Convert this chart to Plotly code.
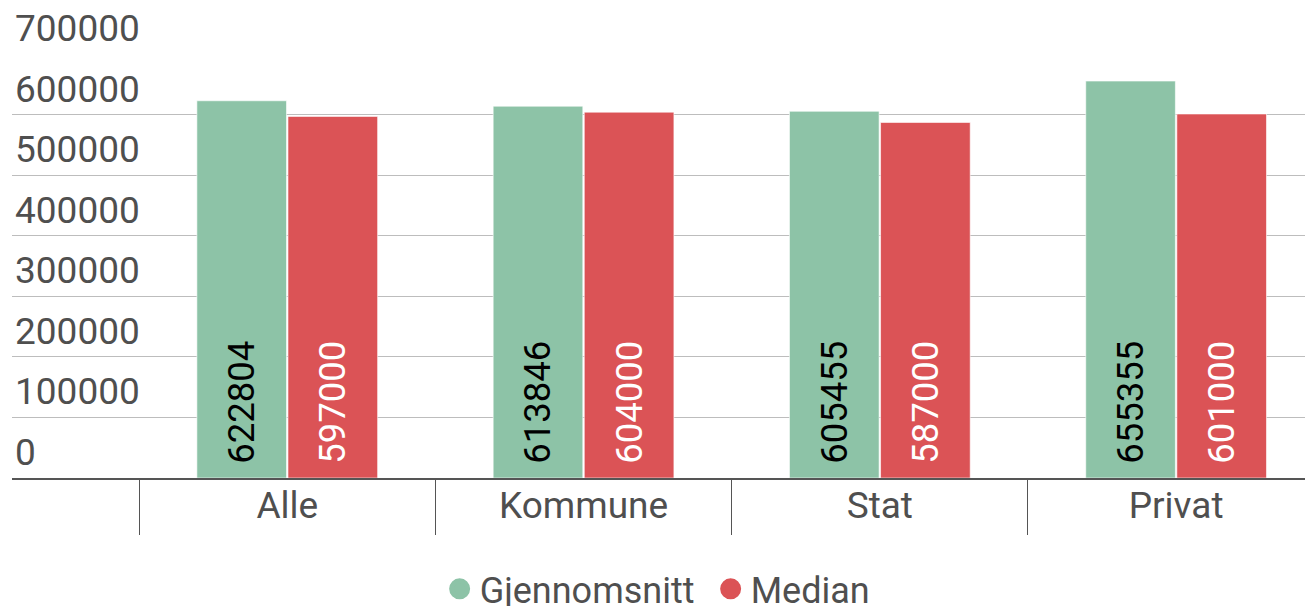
import plotly.graph_objects as go

categories = ["Alle", "Kommune", "Stat", "Privat"]
gjennomsnitt = [622804, 613846, 605455, 655355]
median = [597000, 604000, 587000, 601000]
series_names = ["Gjennomsnitt", "Median"]
y_ticks = [0, 100000, 200000, 300000, 400000, 500000, 600000, 700000]

GREEN = "#8DC3A7"
RED = "#DB5356"
FONT = "Roboto"
GREY = "#4F4F4F"

fig = go.Figure()
for name, vals, col, tcol in [(series_names[0], gjennomsnitt, GREEN, "black"),
                              (series_names[1], median, RED, "white")]:
    fig.add_trace(go.Bar(
        x=categories, y=vals, name=name, showlegend=False,
        marker=dict(color=col, line=dict(color="rgba(255,255,255,0.6)", width=1)),
        text=[str(v) for v in vals], texttemplate="\u2009\u200a%{text}",
        textposition="inside",
        insidetextanchor="start", textangle=-90,
        textfont=dict(family=FONT, size=36.5, color=tcol),
    ))
    fig.add_trace(go.Scatter(
        x=[None], y=[None], mode="markers", name=name,
        marker=dict(color=col, size=16, symbol="circle",
                    line=dict(color=col, width=5)),
    ))

# page body adds an 8px offset; margins compensate for it
fig.update_layout(
    width=1313, height=606,
    margin=dict(l=4, r=8, t=46, b=136, autoexpand=False),
    paper_bgcolor="white", plot_bgcolor="white",
    barmode="group", bargap=0.385, bargroupgap=0.016,
    font=dict(family=FONT, size=36, color=GREY),
    showlegend=True,
    legend=dict(orientation="h", xanchor="center", x=0.537,
                yref="container", y=0.0413, yanchor="middle",
                entrywidth=226, entrywidthmode="pixels",
                font=dict(family=FONT, size=36, color=GREY),
                itemsizing="trace", bgcolor="rgba(0,0,0,0)"),
)
fig.update_xaxes(
    type="category", range=[-0.929, 3.462], automargin=False,
    showline=True, linecolor="#555555", linewidth=2,
    ticks="outside", tickson="boundaries", ticklen=55, tickwidth=1,
    tickcolor="#555555", ticklabelstandoff=-6,
    tickfont=dict(family=FONT, size=37, color=GREY),
    showgrid=False, zeroline=False,
)
fig.update_yaxes(
    range=[0, 700000], tickvals=y_ticks, tickformat="d", automargin=False,
    ticklabelposition="inside top", ticklabeloverflow="allow",
    showgrid=True, gridcolor="#BDBDBD", gridwidth=1,
    zeroline=False, showline=False, ticks="",
    tickfont=dict(family=FONT, size=37, color=GREY),
)

fig.write_html("out.html")
